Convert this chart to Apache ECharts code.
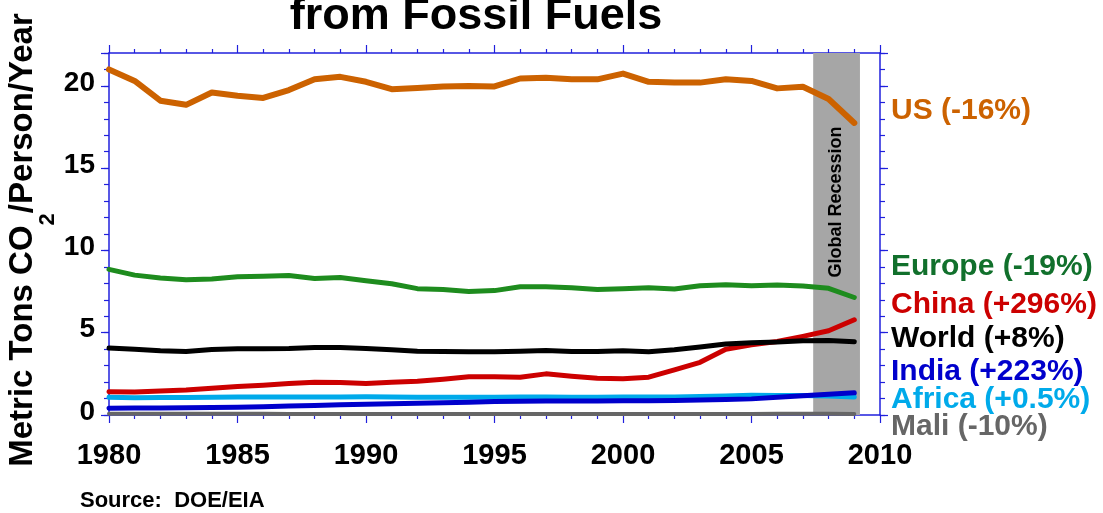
<!DOCTYPE html>
<html>
<head>
<meta charset="utf-8">
<script src="https://cdn.jsdelivr.net/npm/echarts@6/dist/echarts.min.js"></script>
<style>
html,body{margin:0;padding:0;background:#fff;}
#c{width:1103px;height:513px;}
</style>
</head>
<body>
<div id="c"></div>
<script>
const years = [1980,1981,1982,1983,1984,1985,1986,1987,1988,1989,1990,1991,1992,1993,1994,1995,1996,1997,1998,1999,2000,2001,2002,2003,2004,2005,2006,2007,2008,2009];
const us     = [21.0,20.3,19.1,18.85,19.6,19.4,19.27,19.75,20.4,20.55,20.25,19.8,19.88,19.97,20.0,19.97,20.45,20.5,20.4,20.4,20.75,20.25,20.2,20.2,20.4,20.3,19.85,19.95,19.2,17.75];
const europe = [8.85,8.5,8.33,8.22,8.27,8.4,8.43,8.48,8.3,8.36,8.16,7.98,7.68,7.62,7.5,7.56,7.8,7.8,7.74,7.62,7.68,7.74,7.66,7.86,7.92,7.86,7.9,7.84,7.7,7.14];
const china  = [1.42,1.4,1.46,1.52,1.63,1.73,1.81,1.91,1.99,1.97,1.91,1.99,2.05,2.17,2.32,2.32,2.3,2.5,2.36,2.24,2.2,2.3,2.74,3.2,4.0,4.27,4.47,4.78,5.12,5.79];
const world  = [4.07,4.0,3.9,3.86,3.98,4.02,4.02,4.04,4.1,4.1,4.04,3.96,3.88,3.86,3.84,3.84,3.88,3.92,3.86,3.86,3.9,3.84,3.96,4.13,4.31,4.39,4.43,4.51,4.53,4.45];
const india  = [0.41,0.42,0.43,0.44,0.45,0.47,0.5,0.54,0.58,0.62,0.65,0.68,0.71,0.74,0.78,0.82,0.83,0.85,0.85,0.85,0.86,0.87,0.88,0.91,0.94,0.98,1.08,1.17,1.26,1.35];
const africa = [1.08,1.05,1.06,1.07,1.08,1.1,1.1,1.1,1.1,1.1,1.11,1.1,1.08,1.08,1.08,1.08,1.1,1.1,1.08,1.08,1.1,1.1,1.1,1.12,1.16,1.2,1.18,1.18,1.15,1.09];
const mali   = [0.075,0.075,0.07,0.07,0.07,0.07,0.07,0.065,0.065,0.065,0.065,0.06,0.06,0.06,0.06,0.06,0.06,0.06,0.06,0.06,0.06,0.06,0.065,0.065,0.065,0.065,0.07,0.07,0.07,0.068];
const recession = [2007.4, 2009.22];
const xTicks = [1980, 2010, 5];
const yTicks = [0, 22, 5];
const labelTexts = ['US (-16%)','Europe (-19%)','China (+296%)','World (+8%)','India (+223%)','Africa (+0.5%)','Mali (-10%)'];

const FONT = '"Liberation Sans", Arial, Helvetica, sans-serif';
const AX = '#2020dd';
const seriesDefs = [
  {name:'Mali', data:mali, color:'#666666', width:4, label:'#666666', ly:427},
  {name:'Africa', data:africa, color:'#00aaea', width:5, label:'#00aaea', ly:400},
  {name:'India', data:india, color:'#0000cc', width:5, label:'#0000cc', ly:372},
  {name:'China', data:china, color:'#cc0000', width:5, label:'#cc0000', ly:305},
  {name:'World', data:world, color:'#000000', width:5, label:'#000000', ly:339},
  {name:'Europe', data:europe, color:'#1e8c1e', width:5, label:'#11702c', ly:267},
  {name:'US', data:us, color:'#cc6200', width:6, label:'#cc6200', ly:111}
];
const labelOrder = ['US','Europe','China','World','India','Africa','Mali'];

const chart = echarts.init(document.getElementById('c'), null, {renderer:'canvas'});

const series = [{
  type:'line', data:[], z:1, silent:true,
  markArea:{silent:true, itemStyle:{color:'#a6a6a6', opacity:1},
    data:[[{xAxis:recession[0]},{xAxis:recession[1]}]]}
}];
seriesDefs.forEach(s=>{
  series.push({
    name:s.name, type:'line', xAxisIndex:0, yAxisIndex:0,
    data: years.map((y,i)=>[y, s.data[i]]),
    showSymbol:false, symbol:'none', z:3,
    lineStyle:{color:s.color, width:s.width, join:'round', cap:'round'},
    emphasis:{disabled:true}
  });
});

const graphics = [];
labelOrder.forEach((n,i)=>{
  const d = seriesDefs.find(s=>s.name===n);
  graphics.push({type:'text', x:891, y:d.ly, silent:true,
    style:{text:labelTexts[i], font:'bold 30px '+FONT, fill:d.label, align:'left', verticalAlign:'middle'}});
});
graphics.push({type:'text', x:476, y:17, silent:true,
  style:{text:'from Fossil Fuels', font:'bold 45px '+FONT, fill:'#000', align:'center', verticalAlign:'middle'}});
graphics.push({type:'text', x:80, y:501, silent:true,
  style:{text:'Source:  DOE/EIA', font:'bold 22px '+FONT, fill:'#000', align:'left', verticalAlign:'middle'}});
graphics.push({type:'text', x:836, y:202, rotation:Math.PI/2, silent:true, z:2,
  style:{text:'Global Recession', font:'bold 18px '+FONT, fill:'#000', align:'center', verticalAlign:'middle'}});
graphics.push({type:'text', x:23, y:240, rotation:Math.PI/2, silent:true,
  style:{text:'{a|Metric Tons CO}{s|2}{a|/Person/Year}', align:'center', verticalAlign:'middle',
    rich:{a:{font:'bold 33px '+FONT, fontSize:33, fontWeight:'bold', fontFamily:FONT, fill:'#000'},
          s:{font:'bold 22px '+FONT, fontSize:22, fontWeight:'bold', fontFamily:FONT, fill:'#000', padding:[50,0,0,0]}}}});

const xBase = {type:'value', min:xTicks[0], max:xTicks[1], interval:xTicks[2], splitLine:{show:false},
  axisLine:{show:true, onZero:false, lineStyle:{color:AX, width:1.5}},
  axisTick:{show:true, inside:false, length:8, lineStyle:{color:AX, width:1.2}},
  minorTick:{show:true, splitNumber:5, length:4, lineStyle:{color:AX, width:1.2}}};
const yMajor = {type:'value', min:yTicks[0], max:yTicks[1], interval:yTicks[2], splitLine:{show:false},
  axisLine:{show:true, onZero:false, lineStyle:{color:AX, width:1.5}},
  axisTick:{show:true, inside:false, length:8, lineStyle:{color:AX, width:1.2}}};
const yMinor = {type:'value', min:yTicks[0], max:yTicks[1], interval:1, splitLine:{show:false},
  axisLine:{show:false}, axisLabel:{show:false},
  axisTick:{show:true, inside:false, length:5, lineStyle:{color:AX, width:1.2}}};

chart.setOption({
  animation:false,
  backgroundColor:'#ffffff',
  grid:{left:109, right:223, top:53, bottom:98, containLabel:false},
  xAxis:[
    Object.assign({}, xBase, {position:'bottom',
      axisLabel:{show:true, margin:26, color:'#000', fontSize:29, fontWeight:'bold', fontFamily:FONT,
        formatter:v=>String(v)}}),
    Object.assign({}, xBase, {position:'top', axisLabel:{show:false}})
  ],
  yAxis:[
    Object.assign({}, yMajor, {position:'left',
      axisLabel:{show:true, margin:14, color:'#000', fontSize:28, fontWeight:'bold', fontFamily:FONT,
        verticalAlign:'bottom', lineHeight:6, formatter:v=> (v%5===0 ? String(v) : '')}}),
    Object.assign({}, yMinor, {position:'left'}),
    Object.assign({}, yMajor, {position:'right', axisLabel:{show:false}}),
    Object.assign({}, yMinor, {position:'right'})
  ],
  series: series,
  graphic: graphics
});
</script>
</body>
</html>
